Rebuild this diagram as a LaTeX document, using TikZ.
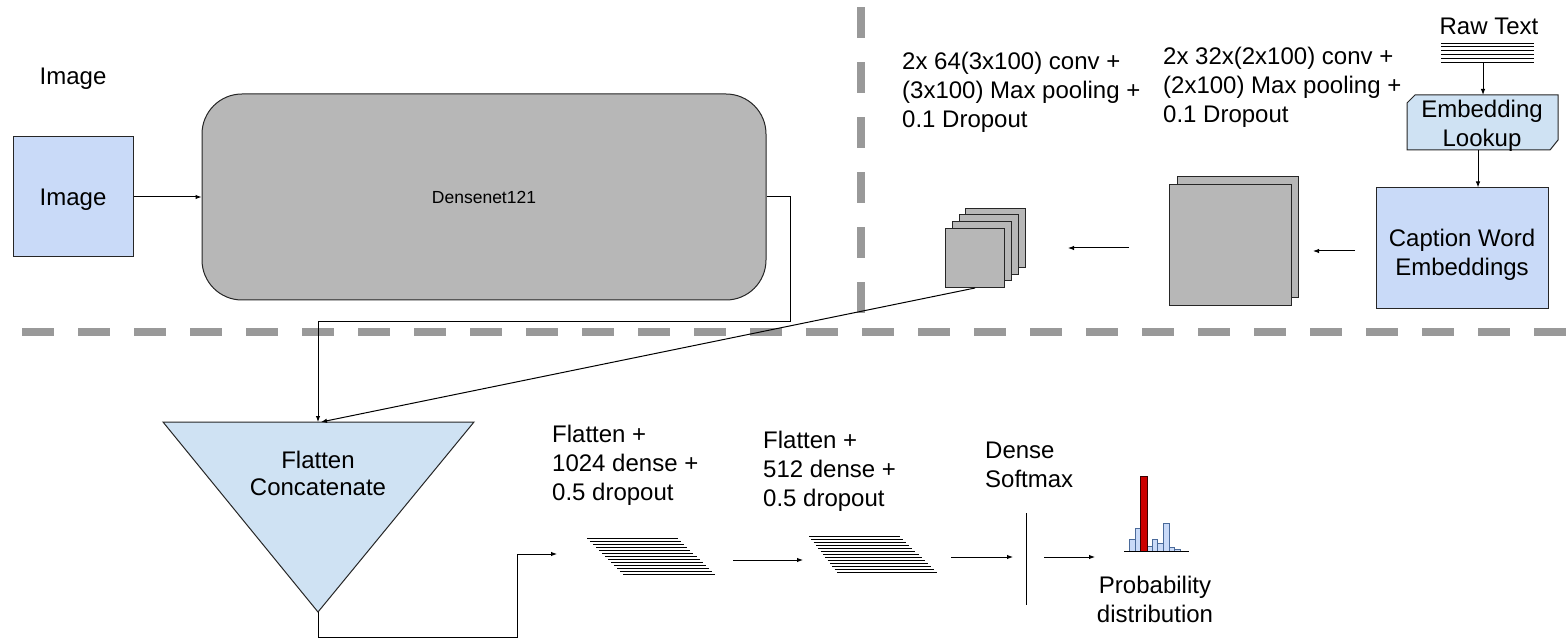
\documentclass[tikz,border=0pt]{standalone}
\usepackage{fontspec}
\setmainfont{Liberation Sans}
\usetikzlibrary{arrows.meta}
\definecolor{boxblue}{HTML}{C9DAF8}
\definecolor{lightblue}{HTML}{CFE2F3}
\definecolor{dngray}{HTML}{B7B7B7}
\definecolor{dashgray}{HTML}{999999}
\definecolor{barred}{HTML}{CC0000}
\definecolor{barline}{HTML}{4A6A9A}
\tikzset{
  lbl/.style={font=\fontsize{24}{29}\selectfont, inner sep=0pt, align=left, anchor=north west},
  lblc/.style={font=\fontsize{24}{29}\selectfont, inner sep=0pt, align=center, anchor=north},
  arr/.style={line width=1pt, -{Latex[length=6pt,width=4.5pt]}},
  conn/.style={line width=1pt},
  blk/.style={draw=black!85, line width=1pt},
  sq/.style={draw=black!85, line width=1pt, fill=dngray},
  sep/.style={draw=dashgray, line width=8pt},
  hatch/.style={line width=1pt},
  bar/.style={draw=barline, line width=0.8pt, fill=boxblue},
  redbar/.style={draw=black!70!barred, line width=0.8pt, fill=barred}
}
\begin{document}
\begin{tikzpicture}[x=1pt,y=-1pt]
\useasboundingbox (0,0) rectangle (1567,644);
\fill[white] (0,0) rectangle (1567,644);

% separators
\draw[sep, dash pattern=on 32pt off 24pt] (22,332) -- (1567,332);
\draw[sep, dash pattern=on 31pt off 24pt] (861,313) -- (861,0);

% ---------- image branch ----------
\node[lblc] (imglbl) at (73,68) {Image};
\node[blk, fill=boxblue, minimum width=120pt, minimum height=120pt, inner sep=0pt,
      font=\fontsize{24}{29}\selectfont, text height=17pt, text depth=0pt] (img) at (73,197) {Image};
\node[blk, fill=dngray, rounded corners=40pt, minimum width=564pt, minimum height=206pt,
      inner sep=0pt, font=\fontsize{17.5}{20}\selectfont] (dn) at (484,197) {Densenet121};
\draw[arr] (img.east) -- (dn.west);

% ---------- text branch ----------
\node[lblc] (raw) at (1489,18) {Raw Text};
\foreach \i in {0,...,5} {
  \draw[line width=0.9pt] (1441,43+3.9*\i) -- (1534,43+3.9*\i);
}
\coordinate (rawb) at (1483,63);
\draw[blk, fill=lightblue] (1415,95) -- (1558,95) -- (1558,140) -- (1550,150) -- (1407,150) -- (1407,103) -- cycle;
\coordinate (embt) at (1483,95);
\coordinate (embb) at (1478,150);
\node[lblc] (emb) at (1482,100) {Embedding\\Lookup};
\draw[arr] (rawb) -- (embt);

\node[blk, fill=boxblue, minimum width=172pt, minimum height=121pt, inner sep=0pt] (cap) at (1462,248.5) {};
\node[lblc] (captxt) at (1462,229) {Caption Word\\Embeddings};
\draw[arr] (embb) -- (cap.north -| embb);

% big feature maps
\draw[sq] (1177,177) rectangle (1298,298);
\draw[sq] (1169,185) rectangle (1291,306);
\coordinate (bigL) at (1129,248);
\coordinate (bigR) at (1355,251);
\coordinate (bigRe) at (1313,251);
\draw[arr] (bigR) -- (bigRe);

% small feature maps
\draw[sq] (965,209) rectangle (1025,268);
\draw[sq] (959,215) rectangle (1018,275);
\draw[sq] (952,222) rectangle (1011,281);
\draw[sq] (945,229) rectangle (1004,288);
\coordinate (smallR) at (1068,248);
\coordinate (smallB) at (975,288);
\draw[arr] (bigL) -- (smallR);

\node[lbl] (conv64) at (902,52) {2x 64(3x100) conv +\\(3x100) Max pooling +\\0.1 Dropout};
\node[lbl] (conv32) at (1163,47) {2x 32x(2x100) conv +\\(2x100) Max pooling +\\0.1 Dropout};

% ---------- merge ----------
\coordinate (tl) at (163,422);
\coordinate (tr) at (474,422);
\coordinate (tb) at (318,612);
\draw[blk, fill=lightblue] (tl) -- (tr) -- (tb) -- cycle;
\node[font=\fontsize{24}{27}\selectfont, inner sep=0pt, align=center, anchor=north] (cat) at (318,451) {Flatten\\Concatenate};
\coordinate (ttop) at (318,422);
\coordinate (ttop2) at (321,422);
\draw[arr] (dn.east) -| (790,322) -| (ttop);
\draw[arr] (smallB) -- (ttop2);

% ---------- dense layers ----------
\coordinate (d1in) at (557,554);
\draw[arr] (tb) -- (318,637) -| (517,554) -- (d1in);

\foreach \i in {0,...,12} {
  \pgfmathsetmacro{\t}{\i/12}
  \draw[hatch] (587+36*\t,538+36*\t) -- (678+37*\t,538+36*\t);
}
\node[lbl] (d1txt) at (552,425) {Flatten +\\1024 dense +\\0.5 dropout};
\coordinate (a1s) at (733,560);
\coordinate (a1e) at (803,560);
\draw[arr] (a1s) -- (a1e);

\foreach \i in {0,...,12} {
  \pgfmathsetmacro{\t}{\i/12}
  \draw[hatch] (809+28*\t,536+36*\t) -- (900+37*\t,536+36*\t);
}
\node[lbl] (d2txt) at (763,431) {Flatten +\\512 dense +\\0.5 dropout};
\coordinate (a2s) at (951,557);
\coordinate (a2e) at (1013,557);
\draw[arr] (a2s) -- (a2e);

\coordinate (smt) at (1026,513);
\coordinate (smb) at (1026,605);
\draw[conn] (smt) -- (smb);
\node[lbl] (smtxt) at (985,442) {Dense\\Softmax};
\coordinate (a3s) at (1044,557);
\coordinate (a3e) at (1095,557);
\draw[arr] (a3s) -- (a3e);

% histogram
\foreach \a/\b/\h in {1129/1135/539, 1135/1140/528, 1147/1152/546, 1152/1157/539, 1157/1163/543, 1163/1169/523, 1169/1174/547, 1174/1180/549} {
  \draw[bar] (\a,551) rectangle (\b,\h);
}
\draw[redbar] (1140,551) rectangle (1147,476);
\draw[line width=1pt] (1124,551) -- (1189,551);
\node[lblc] (prob) at (1155,576) {Probability\\distribution};
\end{tikzpicture}
\end{document}
